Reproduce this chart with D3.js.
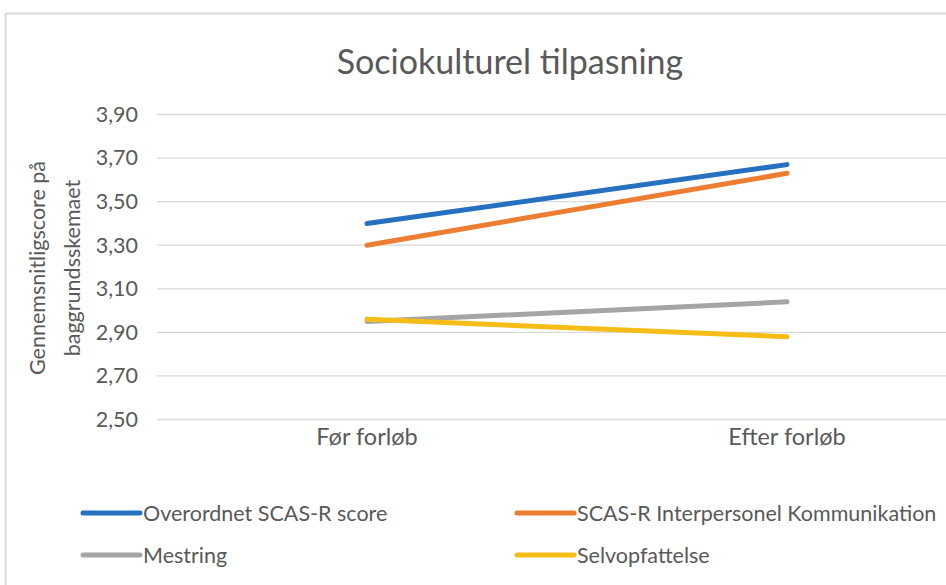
<!DOCTYPE html>
<html>
<head>
<meta charset="utf-8">
<style>
  body { margin: 0; background: #fff; }
  text { font-family: Lato, "Open Sans", sans-serif; fill: #595959; }
</style>
</head>
<body>
<div id="chart"></div>
<script src="https://cdn.jsdelivr.net/npm/d3@7"></script>
<script>

// data
const categories = ["Før forløb", "Efter forløb"];
const seriesNames = ["Overordnet SCAS-R score", "SCAS-R Interpersonel Kommunikation", "Mestring", "Selvopfattelse"];
const overordnet = [3.40, 3.67];
const interpersonel = [3.30, 3.63];
const mestring = [2.95, 3.04];
const selvopfattelse = [2.96, 2.88];
const yTicks = [2.5, 2.7, 2.9, 3.1, 3.3, 3.5, 3.7, 3.9];
const colors = ["#2670c0", "#ed7d31", "#a5a5a5", "#f5bd15"];

const W = 946, H = 585;
const svg = d3.select("#chart").append("svg").attr("width", W).attr("height", H);

// outer frame of the chart area
svg.append("rect")
  .attr("x", 5.5).attr("y", 13.5)
  .attr("width", W).attr("height", H)
  .attr("fill", "#fff").attr("stroke", "#d9d9d9").attr("stroke-width", 2);

const x = d3.scaleBand().domain(categories).range([157, 997]).padding(0);
const y = d3.scaleLinear().domain([2.5, 3.9]).range([419.5, 114.5]);

const comma = d3.formatLocale({ decimal: ",", thousands: ".", grouping: [3], currency: ["", ""] }).format(".2f");

// gridlines
svg.append("g")
  .selectAll("line").data(yTicks).join("line")
  .attr("x1", 157).attr("x2", 997)
  .attr("y1", d => y(d)).attr("y2", d => y(d))
  .attr("stroke", "#d9d9d9").attr("stroke-width", 1.3);

// y axis labels
const yAxis = svg.append("g")
  .attr("transform", "translate(146,0)")
  .call(d3.axisLeft(y).tickValues(yTicks).tickFormat(comma).tickSize(0).tickPadding(8));
yAxis.select(".domain").remove();
yAxis.selectAll("text").style("font-size", "21.5px").style("font-family", "Lato, sans-serif").attr("fill", "#595959");

// x axis labels
const xAxis = svg.append("g")
  .attr("transform", "translate(0,419.5)")
  .call(d3.axisBottom(x).tickSize(0).tickPadding(9));
xAxis.select(".domain").remove();
xAxis.selectAll("text").style("font-size", "23.5px").style("font-family", "Lato, sans-serif").attr("fill", "#595959");

// title
svg.append("text")
  .attr("x", 510).attr("y", 74)
  .attr("text-anchor", "middle")
  .style("font-size", "34px")
  .text("Sociokulturel tilpasning");

// y axis title (two lines)
const yTitle = svg.append("text")
  .attr("transform", "translate(0,268) rotate(-90)")
  .attr("text-anchor", "middle")
  .style("font-size", "21.5px");
yTitle.append("tspan").attr("x", 0).attr("y", 45).text("Gennemsnitligscore på");
yTitle.append("tspan").attr("x", 0).attr("y", 80).text("baggrundsskemaet");

// lines
const series = [overordnet, interpersonel, mestring, selvopfattelse];
const line = d3.line()
  .x((d, i) => x(categories[i]) + x.bandwidth() / 2)
  .y(d => y(d));

svg.append("g")
  .selectAll("path").data(series).join("path")
  .attr("d", line)
  .attr("fill", "none")
  .attr("stroke", (d, i) => colors[i])
  .attr("stroke-width", 5)
  .attr("stroke-linecap", "round");

// legend
const legendPos = [[83, 513], [517, 513], [83, 555], [517, 555]];
const legend = svg.append("g")
  .selectAll("g").data(seriesNames).join("g")
  .attr("transform", (d, i) => "translate(" + legendPos[i][0] + "," + legendPos[i][1] + ")");
legend.append("line")
  .attr("x1", 0).attr("x2", 57).attr("y1", 0).attr("y2", 0)
  .attr("stroke", (d, i) => colors[i]).attr("stroke-width", 5)
  .attr("stroke-linecap", "round");
legend.append("text")
  .attr("x", 60).attr("y", 7.5)
  .style("font-size", "21.5px")
  .text(d => d);

</script>
</body>
</html>
